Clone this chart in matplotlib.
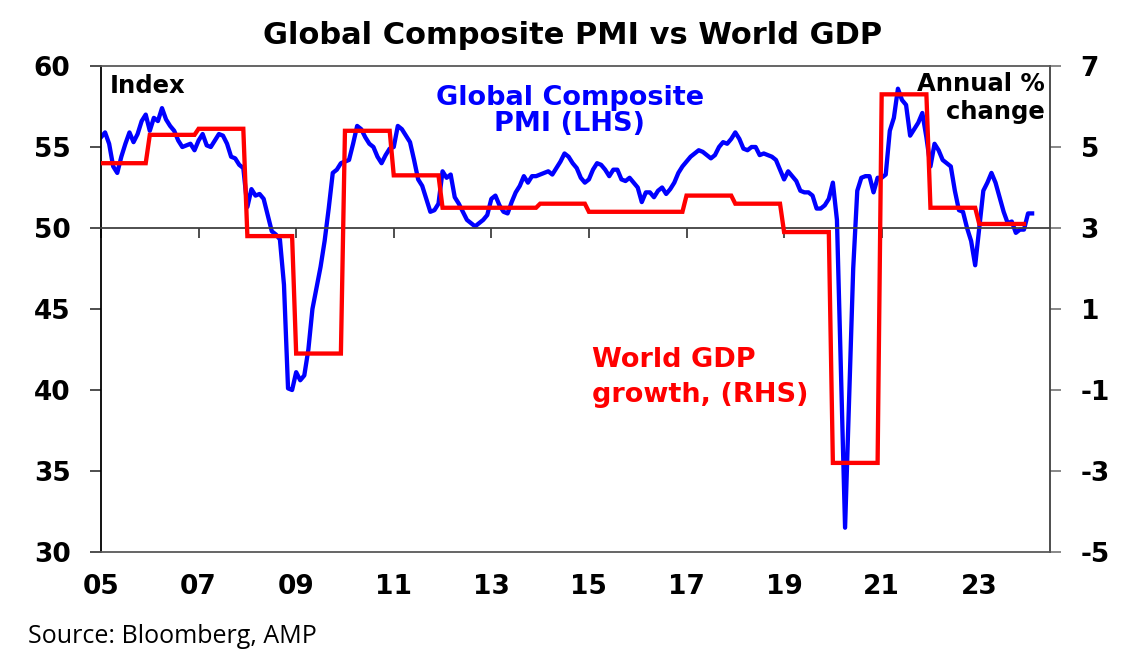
import numpy as np
import matplotlib
matplotlib.use("Agg")
import matplotlib.pyplot as plt

# =========================
# DATA
# =========================
start_year = 2005

# Global composite PMI, monthly from Jan 2005
pmi = [
    55.6, 55.9, 55.2, 53.8, 53.4, 54.4, 55.2, 55.9, 55.3, 55.8, 56.6, 57.0,  # 2005
    56.0, 56.8, 56.6, 57.4, 56.7, 56.3, 56.0, 55.4, 55.0, 55.1, 55.2, 54.8,  # 2006
    55.4, 55.8, 55.1, 55.0, 55.4, 55.8, 55.7, 55.2, 54.4, 54.3, 53.9, 53.7,  # 2007
    51.3, 52.4, 52.0, 52.1, 51.8, 50.8, 49.8, 49.6, 49.3, 46.5, 40.1, 40.0,  # 2008
    41.1, 40.6, 40.9, 42.5, 45.0, 46.3, 47.6, 49.2, 51.2, 53.4, 53.6, 54.0,  # 2009
    54.1, 54.2, 55.2, 56.3, 56.1, 55.6, 55.2, 55.0, 54.4, 54.0, 54.5, 54.9,  # 2010
    55.0, 56.3, 56.1, 55.7, 55.3, 54.2, 53.0, 52.6, 51.8, 51.0, 51.1, 51.5,  # 2011
    53.5, 53.1, 53.3, 51.9, 51.5, 51.0, 50.5, 50.3, 50.1, 50.3, 50.5, 50.8,  # 2012
    51.8, 52.0, 51.4, 51.0, 50.9, 51.6, 52.2, 52.6, 53.2, 52.8, 53.2, 53.2,  # 2013
    53.3, 53.4, 53.5, 53.3, 53.7, 54.1, 54.6, 54.4, 54.0, 53.7, 53.1, 52.8,  # 2014
    53.0, 53.6, 54.0, 53.9, 53.6, 53.2, 53.6, 53.6, 53.0, 52.9, 53.1, 52.8,  # 2015
    52.5, 51.6, 52.2, 52.2, 51.9, 52.3, 52.5, 52.1, 52.4, 52.8, 53.4, 53.8,  # 2016
    54.1, 54.4, 54.6, 54.8, 54.7, 54.5, 54.3, 54.5, 55.0, 55.3, 55.2, 55.5,  # 2017
    55.9, 55.5, 54.9, 54.8, 55.0, 55.0, 54.5, 54.6, 54.5, 54.4, 54.2, 53.6,  # 2018
    53.0, 53.5, 53.2, 52.9, 52.3, 52.2, 52.2, 52.0, 51.2, 51.2, 51.4, 51.8,  # 2019
    52.8, 50.5, 41.0, 31.5, 39.5, 47.5, 52.3, 53.1, 53.2, 53.2, 52.2, 53.1,  # 2020
    53.1, 53.3, 56.0, 56.8, 58.6, 57.9, 57.6, 55.7, 56.1, 56.5, 57.1, 55.6,  # 2021
    53.8, 55.2, 54.8, 54.2, 54.0, 53.8, 52.3, 51.1, 51.0, 50.0, 49.2, 47.7,  # 2022
    50.0, 52.3, 52.8, 53.4, 52.8, 51.9, 51.0, 50.3, 50.4, 49.7, 49.9, 49.9,  # 2023
    50.9, 50.9,                                                              # 2024
]

# World GDP growth, annual % change
gdp_years = list(range(2005, 2024))
gdp = [4.6, 5.3, 5.45, 2.8, -0.1, 5.4, 4.3, 3.5, 3.5, 3.6,
       3.4, 3.4, 3.8, 3.6, 2.9, -2.8, 6.3, 3.5, 3.1]

xtick_years = list(range(2005, 2024, 2))
xtick_labels = ["05", "07", "09", "11", "13", "15", "17", "19", "21", "23"]
left_ticks = [30, 35, 40, 45, 50, 55, 60]
right_ticks = [-5, -3, -1, 1, 3, 5, 7]

# monthly x positions
t_pmi = start_year + np.arange(len(pmi)) / 12
gdp_monthly = np.repeat(gdp, 12)
t_gdp = start_year + np.arange(len(gdp_monthly)) / 12

# =========================
# PLOT
# =========================
plt.rcParams['font.family'] = ['DejaVu Sans']
plt.rcParams['font.weight'] = 'bold'
plt.rcParams['axes.unicode_minus'] = False

fig = plt.figure(figsize=(11.4, 6.65), dpi=100)
ax = fig.add_axes([101/1140, 113/665, 949/1140, 486/665])
ax2 = ax.twinx()

ax.plot(t_pmi, pmi, color='#0000FF', lw=3.1, solid_joinstyle='round')
ax2.plot(t_gdp, gdp_monthly, color='#FF0000', lw=3.1, solid_joinstyle='miter')

ax.set_xlim(2005, 2024.45)
ax.set_ylim(30, 60)
ax2.set_ylim(-5, 7)
ax.set_yticks(left_ticks)
ax2.set_yticks(right_ticks)
ax.set_xticks(xtick_years)
ax.set_xticklabels(xtick_labels)

# x axis crosses at 50: ticks there, labels at the bottom
ax.spines['bottom'].set_position(('data', 50))
ax.spines['bottom'].set_color('#404040')
ax.spines['bottom'].set_linewidth(1.3)
ax.spines['top'].set_visible(False)
ax.spines['right'].set_visible(False)
ax.spines['left'].set_color('black')
ax.spines['left'].set_linewidth(1.3)
ax.tick_params(axis='x', direction='out', length=7, width=1.3, color='#404040',
               labelbottom=False)
ax.tick_params(axis='y', direction='out', length=8, width=1.3, color='#404040',
               labelsize=19, pad=14)

ax2.xaxis.set_visible(True)
ax2.tick_params(axis='x', length=0, labelbottom=True, labelsize=19, pad=16)
ax2.tick_params(axis='y', direction='out', length=8, width=1.3, color='#7f7f7f',
                labelsize=19, pad=14)
ax2.spines['left'].set_visible(False)
for s in ['top', 'bottom']:
    ax2.spines[s].set_color('#595959')
    ax2.spines[s].set_linewidth(1.3)
ax2.spines['right'].set_color('#404040')
ax2.spines['right'].set_linewidth(1.3)

# =========================
# TEXT
# =========================
fig.text(573/1140, 1 - 35/665, "Global Composite PMI vs World GDP",
         ha='center', va='center', fontsize=22, fontweight='bold')

ax.text(0.0095, 0.9444, "Index", transform=ax.transAxes, fontsize=17.5,
        ha='left', va='baseline')
ax.text(0.494, 0.919, "Global Composite", transform=ax.transAxes,
        fontsize=19.5, color='#0000FF', ha='center', va='baseline')
ax.text(0.494, 0.866, "PMI (LHS)", transform=ax.transAxes,
        fontsize=19.5, color='#0000FF', ha='center', va='baseline')
ax.text(0.5174, 0.3807, "World GDP", transform=ax.transAxes,
        fontsize=19.5, color='#FF0000', ha='left', va='baseline')
ax.text(0.5174, 0.3086, "growth, (RHS)", transform=ax.transAxes,
        fontsize=19.5, color='#FF0000', ha='left', va='baseline')
ax.text(0.9947, 0.9486, "Annual %", transform=ax.transAxes, fontsize=17.5,
        ha='right', va='baseline')
ax.text(0.9947, 0.8909, "change", transform=ax.transAxes, fontsize=17.5,
        ha='right', va='baseline')

fig.text(28/1140, 1 - 643/665, "Source: Bloomberg, AMP",
         fontsize=18, fontweight='normal', family='Open Sans',
         ha='left', va='baseline')

fig.savefig("out.png", dpi=100)
